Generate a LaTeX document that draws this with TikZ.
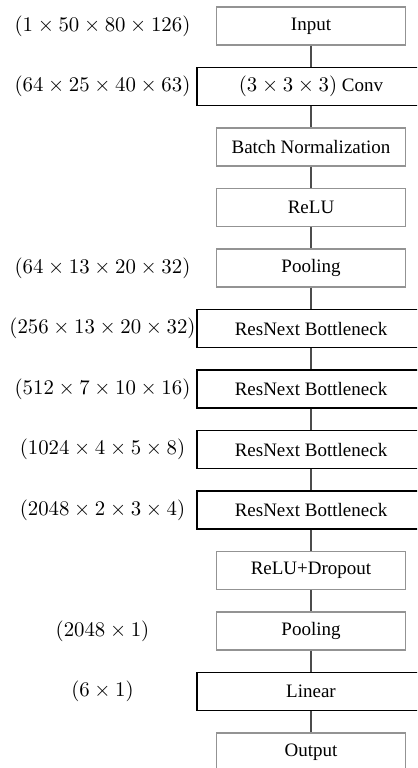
\documentclass[tikz,border=0pt]{standalone}
\usepackage[no-math]{fontspec}
\newfontfamily\boxfont{Liberation Serif}
\begin{document}
\begin{tikzpicture}[x=0.5263pt,y=-0.5263pt,
  layer/.style={draw=gray!85!white, line width=0.6pt, minimum width=99.5pt,
    minimum height=20pt, inner sep=0pt, font=\boxfont\fontsize{10}{12}\selectfont, fill=white},
  widelayer/.style={layer, draw=black, minimum width=120pt},
  shape label/.style={font=\fontsize{11.3}{13}\selectfont, inner sep=0pt},
  link/.style={draw=black!70, line width=0.6pt}]
\useasboundingbox (0,0) rectangle (417,768);
\clip (0,0) rectangle (417,768);

% network stages, top to bottom
\node[layer]     (in)   at (311,26)    {Input};
\node[widelayer] (conv) at (311,86.5)  {{\fontsize{10.5}{12}\selectfont$(3\times3\times3)$} Conv};
\node[layer]     (bn)   at (311,147)   {Batch Normalization};
\node[layer]     (relu) at (311,207.5) {ReLU};
\node[layer]     (pool) at (311,268)   {Pooling};
\node[widelayer] (rn1)  at (311,328.5) {ResNext Bottleneck};
\node[widelayer] (rn2)  at (311,389)   {ResNext Bottleneck};
\node[widelayer] (rn3)  at (311,449.5) {ResNext Bottleneck};
\node[widelayer] (rn4)  at (311,510)   {ResNext Bottleneck};
\node[layer]     (drop) at (311,570.5) {ReLU+Dropout};
\node[layer]     (gpool) at (311,631)  {Pooling};
\node[widelayer] (lin)  at (311,691.5) {Linear};
\node[layer]     (out)  at (311,752)   {Output};

% connectors
\foreach \a/\b in {in/conv,conv/bn,bn/relu,relu/pool,pool/rn1,rn1/rn2,rn2/rn3,rn3/rn4,rn4/drop,drop/gpool,gpool/lin,lin/out}
  \draw[link] (\a.south) -- (\b.north);

% tensor shapes
\node[shape label] (s0) at (102.5,26)    {$(1\times50\times80\times126)$};
\node[shape label] (s1) at (102.5,86.5)  {$(64\times25\times40\times63)$};
\node[shape label] (s4) at (102.5,268)   {$(64\times13\times20\times32)$};
\node[shape label] (s5) at (102.5,328.5) {$(256\times13\times20\times32)$};
\node[shape label] (s6) at (102.5,389)   {$(512\times7\times10\times16)$};
\node[shape label] (s7) at (102.5,449.5) {$(1024\times4\times5\times8)$};
\node[shape label] (s8) at (102.5,510)   {$(2048\times2\times3\times4)$};
\node[shape label] (s10) at (102.5,631)  {$(2048\times1)$};
\node[shape label] (s11) at (102.5,691.5) {$(6\times1)$};
\end{tikzpicture}
\end{document}
